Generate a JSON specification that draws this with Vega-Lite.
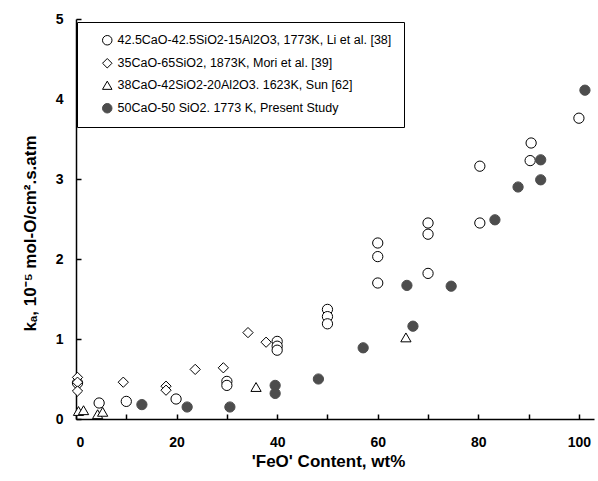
{
  "$schema": "https://vega.github.io/schema/vega-lite/v6.json",
  "width": 518,
  "height": 400,
  "autosize": {"type": "none"},
  "padding": {"left": 76, "top": 19, "right": 4, "bottom": 62},
  "background": "white",
  "config": {
    "view": {"stroke": null},
    "font": "Liberation Sans",
    "axis": {"grid": false, "domainColor": "black", "tickColor": "black", "labelColor": "black", "titleColor": "black", "labelFont": "Liberation Sans", "labelFontWeight": "bold", "labelFontSize": 14, "titleFont": "Liberation Sans", "titleFontWeight": "bold", "titleFontSize": 17, "domainWidth": 1.5, "tickWidth": 1.5, "tickSize": -5}
  },
  "data": {
    "values": [
      {"series": "Li", "x": 0.3, "y": 0.45},
      {"series": "Li", "x": 4.6, "y": 0.2},
      {"series": "Li", "x": 10, "y": 0.22},
      {"series": "Li", "x": 19.9, "y": 0.25},
      {"series": "Li", "x": 30, "y": 0.47},
      {"series": "Li", "x": 30, "y": 0.42},
      {"series": "Li", "x": 40, "y": 0.97},
      {"series": "Li", "x": 40, "y": 0.91},
      {"series": "Li", "x": 40, "y": 0.86},
      {"series": "Li", "x": 50, "y": 1.37},
      {"series": "Li", "x": 50, "y": 1.28},
      {"series": "Li", "x": 50, "y": 1.19},
      {"series": "Li", "x": 60, "y": 2.2},
      {"series": "Li", "x": 60, "y": 2.03},
      {"series": "Li", "x": 60, "y": 1.7},
      {"series": "Li", "x": 70, "y": 2.45},
      {"series": "Li", "x": 70, "y": 2.31},
      {"series": "Li", "x": 70, "y": 1.82},
      {"series": "Li", "x": 80.3, "y": 3.16},
      {"series": "Li", "x": 80.3, "y": 2.45},
      {"series": "Li", "x": 90.5, "y": 3.45},
      {"series": "Li", "x": 90.3, "y": 3.23},
      {"series": "Li", "x": 100, "y": 3.76},
      {"series": "Mori", "x": 0.3, "y": 0.52},
      {"series": "Mori", "x": 0.3, "y": 0.46},
      {"series": "Mori", "x": 0.3, "y": 0.35},
      {"series": "Mori", "x": 9.4, "y": 0.46},
      {"series": "Mori", "x": 17.9, "y": 0.41},
      {"series": "Mori", "x": 17.9, "y": 0.36},
      {"series": "Mori", "x": 23.7, "y": 0.62},
      {"series": "Mori", "x": 29.3, "y": 0.64},
      {"series": "Mori", "x": 34.2, "y": 1.08},
      {"series": "Mori", "x": 37.8, "y": 0.96},
      {"series": "Sun", "x": 0.5, "y": 0.1},
      {"series": "Sun", "x": 1.5, "y": 0.11},
      {"series": "Sun", "x": 4.3, "y": 0.06},
      {"series": "Sun", "x": 5.3, "y": 0.09},
      {"series": "Sun", "x": 35.8, "y": 0.4},
      {"series": "Sun", "x": 65.6, "y": 1.02},
      {"series": "Present", "x": 13.1, "y": 0.18},
      {"series": "Present", "x": 22.1, "y": 0.15},
      {"series": "Present", "x": 30.6, "y": 0.15},
      {"series": "Present", "x": 39.6, "y": 0.42},
      {"series": "Present", "x": 39.6, "y": 0.32},
      {"series": "Present", "x": 48.2, "y": 0.5},
      {"series": "Present", "x": 57.1, "y": 0.89},
      {"series": "Present", "x": 65.8, "y": 1.67},
      {"series": "Present", "x": 67, "y": 1.16},
      {"series": "Present", "x": 74.6, "y": 1.66},
      {"series": "Present", "x": 83.3, "y": 2.49},
      {"series": "Present", "x": 87.9, "y": 2.9},
      {"series": "Present", "x": 92.4, "y": 3.24},
      {"series": "Present", "x": 92.4, "y": 2.99},
      {"series": "Present", "x": 101.2, "y": 4.11}
    ]
  },
  "mark": {"type": "point", "filled": false, "size": 105, "strokeWidth": 1, "opacity": 1},
  "encoding": {
    "x": {
      "field": "x", "type": "quantitative",
      "scale": {"domain": [0, 103], "nice": false, "zero": false},
      "axis": {"values": [0, 10, 20, 30, 40, 50, 60, 70, 80, 90, 100], "labelExpr": "datum.value % 20 === 0 ? datum.label : ''", "title": "'FeO' Content, wt%", "labelPadding": 21, "titleY": 34, "titleX": 252}
    },
    "y": {
      "field": "y", "type": "quantitative",
      "scale": {"domain": [0, 5], "nice": false},
      "axis": {"values": [0, 1, 2, 3, 4, 5], "title": "kₐ, 10⁻⁵ mol-O/cm².s.atm", "labelPadding": 18, "titleX": -37, "titleY": 214}
    },
    "shape": {
      "field": "series", "type": "nominal",
      "scale": {"domain": ["Li", "Mori", "Sun", "Present"], "range": ["circle", "diamond", "triangle-up", "circle"]},
      "legend": {
        "title": null,
        "orient": "none", "legendX": 1, "legendY": 3,
        "strokeColor": "black", "fillColor": "white",
        "padding": 12, "symbolOffset": 12, "rowPadding": 9, "labelOffset": 4,
        "labelFont": "Liberation Sans", "labelFontSize": 12.5, "labelColor": "black", "labelLimit": 800,
        "symbolSize": 90, "symbolStrokeWidth": 1,
        "labelExpr": "{'Li': '42.5CaO-42.5SiO2-15Al2O3, 1773K, Li et al. [38]', 'Mori': '35CaO-65SiO2, 1873K, Mori et al. [39]', 'Sun': '38CaO-42SiO2-20Al2O3. 1623K, Sun [62]', 'Present': '50CaO-50 SiO2. 1773 K, Present Study'}[datum.label]"
      }
    },
    "fill": {
      "field": "series", "type": "nominal",
      "scale": {"domain": ["Li", "Mori", "Sun", "Present"], "range": ["white", "white", "white", "#4d4d4d"]},
      "legend": null
    },
    "stroke": {
      "field": "series", "type": "nominal",
      "scale": {"domain": ["Li", "Mori", "Sun", "Present"], "range": ["black", "black", "black", "#4d4d4d"]},
      "legend": null
    }
  }
}
